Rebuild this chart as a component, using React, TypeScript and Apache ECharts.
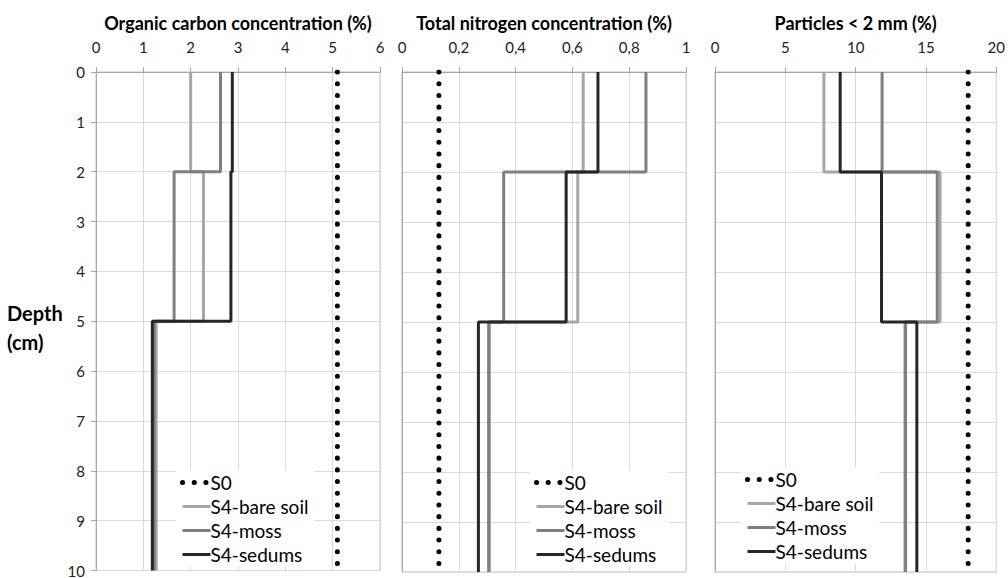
import React, { useEffect, useRef } from "react";
import * as echarts from "echarts";

// Layer boundaries (depth, cm)
const layerBounds = [0, 2, 5, 10];
const depthTicks = [0, 1, 2, 3, 4, 5, 6, 7, 8, 9, 10];
const seriesNames = ["S0", "S4-bare soil", "S4-moss", "S4-sedums"];

// Organic carbon concentration (%), per layer 0-2, 2-5, 5-10 cm
const ocS0 = [5.1, 5.1, 5.1];
const ocBare = [2.0, 2.27, 1.27];
const ocMoss = [2.63, 1.65, 1.23];
const ocSedums = [2.88, 2.85, 1.19];

// Total nitrogen concentration (%)
const tnS0 = [0.13, 0.13, 0.13];
const tnBare = [0.638, 0.619, 0.308];
const tnMoss = [0.859, 0.358, 0.305];
const tnSedums = [0.69, 0.578, 0.269];

// Particles < 2 mm (%)
const ptS0 = [18.0, 18.0, 18.0];
const ptBare = [7.74, 16.0, 13.5];
const ptMoss = [11.88, 15.8, 13.55];
const ptSedums = [8.9, 11.84, 14.35];

const panelTitles = [
  "Organic carbon concentration (%)",
  "Total nitrogen concentration (%)",
  "Particles < 2 mm (%)",
];
const panelMax = [6, 1, 20];
const panelInterval = [1, 0.2, 5];

const FONT = "Lato, 'Open Sans', sans-serif";

function stepPoints(vals: number[]) {
  const pts: number[][] = [];
  vals.forEach((v, i) => {
    pts.push([v, layerBounds[i]]);
    pts.push([v, layerBounds[i + 1]]);
  });
  return pts;
}

export default function App() {
  const ref = useRef<HTMLDivElement>(null);
  useEffect(() => {
    if (!ref.current) return;
    const chart = echarts.init(ref.current, undefined, { renderer: "svg" });
    const grids = [
      { left: 96, top: 72, width: 284, height: 500 },
      { left: 402, top: 72, width: 284, height: 500 },
      { left: 715, top: 72, width: 284, height: 500 },
    ];
    const data = [
      [ocS0, ocBare, ocMoss, ocSedums],
      [tnS0, tnBare, tnMoss, tnSedums],
      [ptS0, ptBare, ptMoss, ptSedums],
    ];
    const styles = [
      { color: "#000000", width: 5, type: [0.1, 11.6], cap: "round" },
      { color: "#a6a6a6", width: 3, type: "solid", cap: "butt" },
      { color: "#7f7f7f", width: 3, type: "solid", cap: "butt" },
      { color: "#262626", width: 3, type: "solid", cap: "butt" },
    ];
    const series: any[] = [];
    data.forEach((panel, p) => {
      panel.forEach((vals, s) => {
        series.push({
          type: "line",
          name: seriesNames[s],
          xAxisIndex: p,
          yAxisIndex: p,
          data: stepPoints(vals),
          showSymbol: false,
          symbol: "none",
          lineStyle: { ...styles[s] },
          itemStyle: { color: styles[s].color, opacity: 0 },
          z: 2 + s,
        });
      });
    });
    const legendPos = [
      { left: 176, top: 470 },
      { left: 530, top: 470 },
      { left: 741, top: 467 },
    ];
    const option: any = {
      animation: false,
      backgroundColor: "#ffffff",
      grid: grids.map((g) => ({
        ...g,
        show: true,
        borderColor: "#c0c0c0",
        borderWidth: 1,
        backgroundColor: "transparent",
      })),
      xAxis: grids.map((_, p) => ({
        type: "value",
        gridIndex: p,
        position: "top",
        min: 0,
        max: panelMax[p],
        interval: panelInterval[p],
        name: panelTitles[p],
        nameLocation: "middle",
        nameGap: 40,
        nameTextStyle: {
          fontFamily: FONT,
          fontWeight: "bold",
          fontSize: 18,
          color: "#000",
        },
        axisLine: { show: true, lineStyle: { color: "#a6a6a6" } },
        axisTick: { show: true, length: 5, lineStyle: { color: "#a6a6a6" } },
        axisLabel: {
          fontFamily: FONT,
          fontSize: 15,
          color: "#222",
          margin: 18,
          formatter: (v: number) =>
            p === 1 && v !== 0 && v !== 1 ? v.toFixed(1).replace(".", ",") : String(v),
        },
        splitLine: { show: true, lineStyle: { color: "#d9d9d9" } },
      })),
      yAxis: grids.map((_, p) => ({
        type: "value",
        gridIndex: p,
        inverse: true,
        min: depthTicks[0],
        max: depthTicks[depthTicks.length - 1],
        interval: 1,
        axisLine: { show: true, lineStyle: { color: "#a6a6a6" } },
        axisTick: { show: p === 0, length: 5, lineStyle: { color: "#a6a6a6" } },
        axisLabel: {
          show: p === 0,
          fontFamily: FONT,
          fontSize: 15,
          color: "#222",
          margin: 11,
        },
        splitLine: { show: true, lineStyle: { color: "#d9d9d9" } },
      })),
      legend: legendPos.map((pos) => ({
        ...pos,
        orient: "vertical",
        data: seriesNames,
        itemWidth: 28,
        itemHeight: 10,
        itemGap: 5,
        padding: [3, 6, 3, 4],
        backgroundColor: "#ffffff",
        selectedMode: false,
        itemStyle: { opacity: 0 },
        lineStyle: { width: "inherit" },
        textStyle: { fontFamily: FONT, fontSize: 19, color: "#000", padding: [0, 0, 0, -5] },
      })),
      graphic: [
        {
          type: "text",
          left: 7,
          top: 298,
          style: {
            text: "Depth\n(cm)",
            fontFamily: FONT,
            fontWeight: "bold",
            fontSize: 20,
            lineHeight: 29,
            align: "center",
            fill: "#000",
            width: 60,
          },
        },
      ],
      series,
    };
    chart.setOption(option);
    return () => chart.dispose();
  }, []);
  return (
    <div
      ref={ref}
      style={{ position: "absolute", left: 0, top: 0, width: 1008, height: 578 }}
    />
  );
}
